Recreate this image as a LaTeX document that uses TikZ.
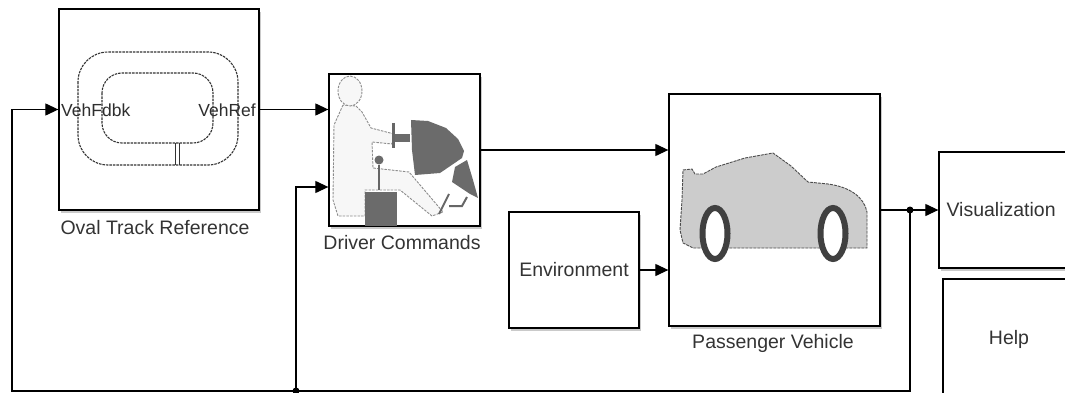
\documentclass[tikz,border=0pt]{standalone}
\usepackage{fontspec}
\setmainfont{Liberation Sans}
\usetikzlibrary{arrows.meta,shadows}

\begin{document}
\begin{tikzpicture}[x=1pt,y=-1pt,
        block/.style={draw,line width=1.3pt,fill=white,inner sep=0pt,
            drop shadow={shadow xshift=2pt,shadow yshift=-3pt,fill=black!35,opacity=.6}},
        lbl/.style={text=black!80,font=\fontsize{19.5}{22}\selectfont,inner sep=0pt},
        port/.style={text=black!82,font=\fontsize{17.5}{20}\selectfont,inner sep=0pt},
        sig/.style={line width=1.2pt,-{Triangle[length=13pt,width=12pt]}},
        track/.style={draw=black!80,line width=1.1pt,dash pattern=on 2.5pt off 1pt},
        outline/.style={draw=black!45,line width=.9pt,dash pattern=on 2.5pt off 1.2pt},
        darkpart/.style={fill=black!58}]

    \useasboundingbox (0,0) rectangle (1065,393);

    % blocks
    \node[block,minimum width=200pt,minimum height=201pt] (oval) at (159,109.5) {};
    \node[block,minimum width=151pt,minimum height=152pt] (drv) at (404.5,150) {};
    \node[block,minimum width=211pt,minimum height=232pt] (veh) at (774.5,210) {};
    \node[block,minimum width=130pt,minimum height=116pt,lbl] (env) at (574,270) {Environment};
    \node[block,minimum width=136pt,minimum height=116pt] (vis) at (1007,210) {};
    \node[lbl,anchor=west] (vistxt) at ([xshift=8pt]vis.west) {Visualization};
    \node[block,minimum width=132pt,minimum height=121pt,lbl] (help) at (1009,339.5) {Help};

    \node[lbl] (ovallbl) at (155,228) {Oval Track Reference};
    \node[lbl] (drvlbl) at (402,243) {Driver Commands};
    \node[lbl] (vehlbl) at (773,343) {Passenger Vehicle};

    % oval track icon
    \draw[track,rounded corners=30pt] (78,52) rectangle (238,165);
    \draw[track,rounded corners=20pt] (102,73) rectangle (213,143);
    \draw[black!80,line width=1.1pt] (175.5,143) -- (175.5,165) (179.5,143) -- (179.5,165);
    \node[port,anchor=west] (fdbk) at (61,110) {VehFdbk};
    \node[port,anchor=east] (ref) at (256,110) {VehRef};

    % driver icon
    \draw[outline,fill=black!3] (343,105) -- (334,125) -- (333,200) -- (338,216) -- (365,216)
        -- (365,190) -- (400,190) -- (432,216) -- (443,212) -- (409,172) -- (373,168)
        -- (372,142) -- (392,144) -- (394,134) -- (371,128) -- (362,112) -- (356,106) -- cycle;
    \draw[outline,fill=black!3] (350,91) ellipse (12pt and 15pt);
    \fill[darkpart] (365,192) rectangle (397,226);
    \draw[black!60,line width=2.5pt] (379,165) -- (379,190);
    \fill[darkpart] (379,160) circle (4.5pt);
    \fill[darkpart] (411,120) -- (428,121) -- (446,128) -- (458,139) -- (464,151) -- (462,158)
        -- (440,173) -- (415,175) -- (412,150) -- cycle;
    \fill[darkpart] (455,167) -- (467,160) -- (473,180) -- (478,198) -- (470,194) -- (452,182) -- cycle;
    \draw[black!60,line width=3pt] (393,123) -- (393,148);
    \fill[darkpart] (395,134) rectangle (410,142);
    \draw[black!60,line width=2pt] (449,194) -- (439,214) (449,206) -- (462,206) -- (467,197);

    % car icon
    \draw[black!70,line width=.9pt,dash pattern=on 3pt off 1pt,fill=black!20]
        (683,170) -- (692,169) -- (695,174) -- (703,174) -- (716,167) -- (745,158) -- (773,153)
        -- (791,166) -- (808,182) -- (828,184)
        .. controls (850,187) and (864,197) .. (867,212) -- (867,248) -- (693,248)
        -- (683,243) -- (680,230) -- (682,200) -- cycle;
    \draw[black!75,line width=6pt,fill=white] (715,233.5) ellipse (12.5pt and 25.5pt);
    \draw[black!75,line width=6pt,fill=white] (833,233.5) ellipse (12.5pt and 25.5pt);

    % signals
    \coordinate (jn) at (910,210);
    \coordinate (fbr) at (910,391);
    \coordinate (fbs) at (296,391);
    \coordinate (fbl) at (12,391);
    \coordinate (drvin) at ([yshift=-37pt]drv.west);

    \draw[sig] (oval.east) -- (oval.east -| drv.west);
    \draw[sig] (drv.east) -- (drv.east -| veh.west);
    \draw[sig] (env.east) -- (env.east -| veh.west);
    \draw[sig] (veh.east) -- (vis.west);
    \draw[sig] (jn) -- (fbr) -- (fbl) |- (oval.west);
    \draw[sig] (fbs) |- (drvin);
    \fill (jn) circle (3.5pt);
    \fill (fbs) circle (3.5pt);
\end{tikzpicture}
\end{document}
